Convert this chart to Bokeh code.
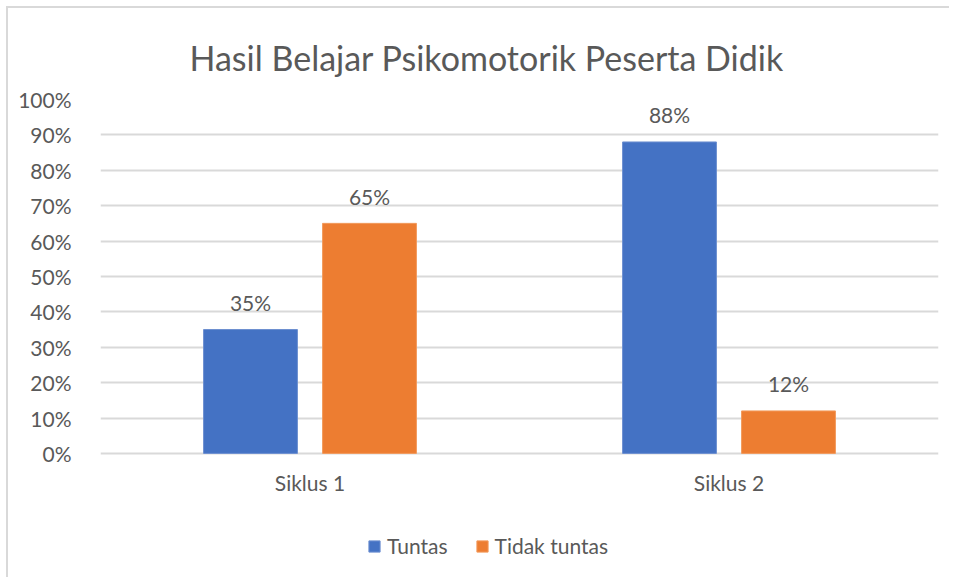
from bokeh.plotting import figure
from bokeh.models import FactorRange, Range1d, Legend, LegendItem, NumeralTickFormatter, FixedTicker, ColumnDataSource
from bokeh.transform import dodge
from bokeh.core.properties import value
from bokeh.embed import file_html
from bokeh.resources import INLINE

categories = ["Siklus 1", "Siklus 2"]
tuntas = [35, 88]
tidak_tuntas = [65, 12]
series_names = ["Tuntas", "Tidak tuntas"]
y_ticks = [0, 10, 20, 30, 40, 50, 60, 70, 80, 90, 100]

FONT = "Lato"
TXT = "#595959"
BLUE = "#4472C4"
ORANGE = "#ED7D31"

src = ColumnDataSource(dict(
    cat=categories,
    zero=[0] * len(categories),
    tuntas=tuntas,
    tidak=tidak_tuntas,
    tuntas_lbl=[f"{v}%" for v in tuntas],
    tidak_lbl=[f"{v}%" for v in tidak_tuntas],
))

W, H = 943, 571
p = figure(x_range=FactorRange(factors=categories, range_padding=0),
           y_range=Range1d(-34.5, 100),
           width=W, height=H, output_backend="svg", toolbar_location=None,
           min_border_left=92, min_border_right=13, min_border_top=91, min_border_bottom=4)
p.styles = {"border-left": "2px solid #d9d9d9", "border-top": "2px solid #d9d9d9",
            "margin-left": "6px", "margin-top": "6px"}

p.title.text = "Hasil Belajar Psikomotorik Peserta Didik"
p.title.align = "left"
p.title.offset = 89
p.title.text_font = FONT
p.title.text_font_size = "34px"
p.title.text_font_style = "normal"
p.title.text_color = TXT
p.title.standoff = 43

bw = 0.224
off = 0.142
r1 = p.vbar(x=dodge("cat", -off, range=p.x_range), top="tuntas", width=bw, source=src,
            fill_color=BLUE, line_color="#6d8fd0", line_width=1)
r2 = p.vbar(x=dodge("cat", off, range=p.x_range), top="tidak", width=bw, source=src,
            fill_color=ORANGE, line_color="#f29a5c", line_width=1)

for key, lbl, dx in (("tuntas", "tuntas_lbl", -off), ("tidak", "tidak_lbl", off)):
    p.text(x=dodge("cat", dx, range=p.x_range), y=key, text=lbl, source=src,
           text_align="center", text_baseline="alphabetic", y_offset=-27,
           text_font=value(FONT), text_font_size="21px", text_color=TXT)

# category labels
p.text(x="cat", y="zero", text="cat", source=src, text_align="center",
       text_baseline="alphabetic", y_offset=29,
       text_font=value(FONT), text_font_size="21px", text_color=TXT)

p.xaxis.visible = False
p.yaxis.ticker = FixedTicker(ticks=y_ticks)
p.yaxis.formatter = NumeralTickFormatter(format="0")
p.yaxis.major_label_overrides = {t: f"{t}%" for t in y_ticks}
p.yaxis.major_label_standoff = 23
p.yaxis.axis_line_color = None
p.yaxis.major_tick_line_color = None
p.yaxis.minor_tick_line_color = None
p.yaxis.major_label_text_font = FONT
p.yaxis.major_label_text_font_size = "21px"
p.yaxis.major_label_text_color = TXT

p.xgrid.grid_line_color = None
p.ygrid.grid_line_color = "#d9d9d9"
p.ygrid.grid_line_width = 2
p.outline_line_color = None
p.background_fill_color = "white"
p.border_fill_color = "white"

legend = Legend(items=[LegendItem(label=series_names[0], renderers=[r1]),
                       LegendItem(label=series_names[1], renderers=[r2])],
                orientation="horizontal", location=(267, 17),
                glyph_width=14, glyph_height=14, label_standoff=6, spacing=27,
                label_text_font=FONT, label_text_font_size="21px", label_text_color=TXT,
                border_line_color=None, background_fill_alpha=0, padding=0, margin=0)
p.add_layout(legend, "center")

open("out.html", "w").write(file_html(p, INLINE))
